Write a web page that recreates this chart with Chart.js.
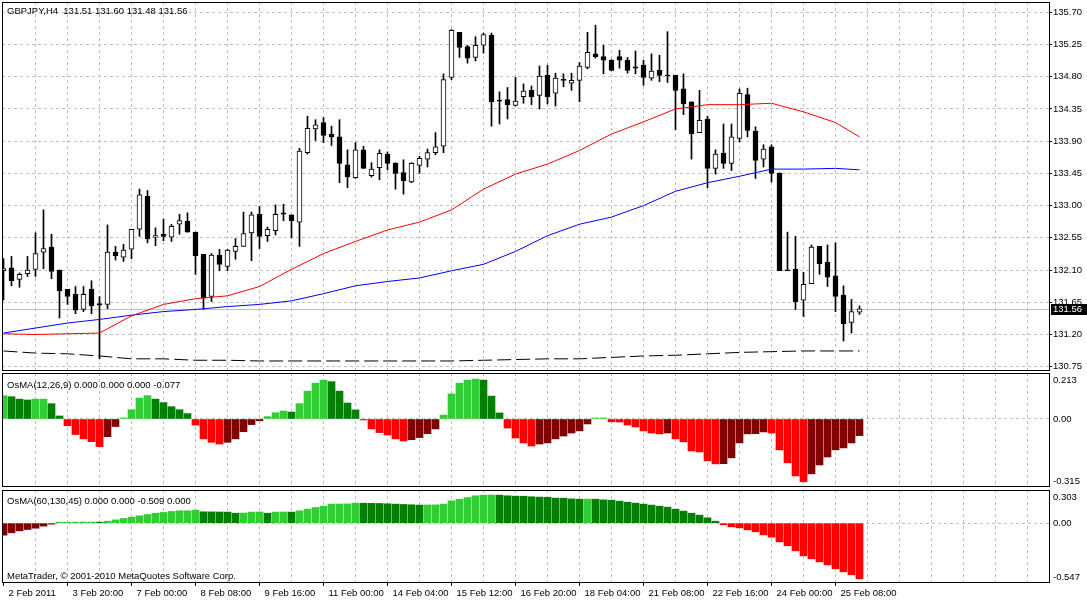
<!DOCTYPE html>
<html><head><meta charset="utf-8">
<script src="https://cdn.jsdelivr.net/npm/chart.js@4.4.0/dist/chart.umd.min.js"></script>
<style>
html,body{margin:0;padding:0;background:#fff;}
#wrap{position:relative;width:1087px;height:600px;overflow:hidden;background:#fff;}
canvas{position:absolute;left:0;}
.t{position:absolute;left:7px;font:9.5px "Liberation Sans",Arial,sans-serif;line-height:11px;color:#000;white-space:pre;}
</style></head><body>
<div id="wrap">
<canvas id="cMain" width="1087" height="372" style="top:0px"></canvas>
<canvas id="cOs1" width="1087" height="116" style="top:372px"></canvas>
<canvas id="cOs2" width="1087" height="111" style="top:489px"></canvas>
<div class="t" style="top:5px">GBPJPY,H4  131.51 131.60 131.48 131.56</div>
<div class="t" style="top:379px">OsMA(12,26,9) 0.000 0.000 0.000 -0.077</div>
<div class="t" style="top:495px">OsMA(60,130,45) 0.000 0.000 -0.509 0.000</div>
<div class="t" style="top:570px">MetaTrader, © 2001-2010 MetaQuotes Software Corp.</div>
</div>
<script>
// ---------- data ----------
const dateLabels = ['2 Feb 2011','3 Feb 20:00','7 Feb 00:00','8 Feb 08:00','9 Feb 16:00','11 Feb 00:00','14 Feb 04:00','15 Feb 12:00','16 Feb 20:00','18 Feb 04:00','21 Feb 08:00','22 Feb 16:00','24 Feb 00:00','25 Feb 08:00'];
const priceTicks = [135.70,135.25,134.80,134.35,133.90,133.45,133.00,132.55,132.10,131.65,131.20,130.75];
const osma1Labels = ['0.213','0.00','-0.315'];
const osma2Labels = ['0.303','0.00','-0.547'];

const opens = [132.09,132.13,131.97,132.05,132.11,132.35,132.42,132.10,131.83,131.76,
131.55,131.83,131.63,131.62,132.35,132.28,132.39,132.67,133.13,132.56,
132.60,132.56,132.74,132.78,132.63,132.32,131.73,132.31,132.15,132.36,
132.43,132.62,132.88,132.58,132.65,132.90,132.87,132.77,133.74,134.07,
134.16,134.00,133.96,133.57,133.39,133.78,133.42,133.53,133.72,133.59,
133.46,133.33,133.56,133.65,133.74,133.83,134.79,135.42,135.22,135.07,
135.24,135.38,134.47,134.48,134.40,134.52,134.61,134.54,134.82,134.57,
134.76,134.71,134.75,134.93,135.12,135.08,135.03,135.08,135.03,134.94,
134.96,134.78,134.89,134.82,134.82,134.63,134.45,134.02,134.21,133.52,
133.73,133.59,133.94,134.55,134.04,133.65,133.82,133.45,132.10,132.11,
131.68,131.91,132.43,132.21,132.02,131.75,131.37,131.51];
const highs = [132.26,132.29,132.06,132.29,132.62,132.94,132.60,132.10,131.83,131.87,
131.87,131.95,131.73,132.73,132.43,132.46,132.67,133.23,133.21,132.69,
132.81,132.74,132.88,132.90,132.63,132.32,132.33,132.39,132.39,132.54,
132.91,132.91,132.99,132.70,133.01,133.02,132.87,133.80,134.25,134.20,
134.23,134.11,134.20,133.78,133.88,133.83,133.60,133.78,133.75,133.60,
133.64,133.60,133.69,133.79,134.02,134.84,135.46,135.42,135.24,135.36,
135.41,135.41,134.59,134.65,134.79,134.70,134.67,134.95,134.96,134.85,
134.84,134.85,135.00,135.42,135.52,135.24,135.04,135.17,135.07,135.16,
135.03,135.12,135.10,135.43,134.82,134.84,134.45,134.61,134.25,133.78,
134.14,134.14,134.63,134.64,134.10,133.85,133.85,133.46,132.63,132.57,
132.07,132.45,132.43,132.45,132.48,131.88,131.69,131.60];
const lows = [131.68,131.88,131.86,132.01,132.01,132.12,131.98,131.43,131.62,131.49,
131.52,131.49,130.86,131.56,132.24,132.22,132.26,132.57,132.48,132.44,
132.51,132.50,132.60,132.63,132.04,131.55,131.66,132.09,132.09,132.25,
132.43,132.23,132.40,132.50,132.59,132.79,132.55,132.43,133.72,133.91,
133.88,133.84,133.32,133.25,133.38,133.52,133.40,133.36,133.50,133.23,
133.16,133.32,133.45,133.54,133.71,133.74,134.76,135.07,134.99,135.02,
135.13,134.11,134.14,134.21,134.39,134.43,134.41,134.35,134.42,134.39,
134.66,134.61,134.45,134.91,135.06,134.84,134.88,134.92,134.85,134.84,
134.68,134.75,134.73,134.72,134.06,134.27,133.65,134.02,133.25,133.44,
133.52,133.49,133.89,133.96,133.38,133.54,133.33,132.09,132.09,131.55,
131.45,131.91,132.04,131.87,131.52,131.11,131.22,131.48];
const closes = [132.12,131.95,132.04,132.10,132.33,132.40,132.08,131.81,131.73,131.54,
131.76,131.60,131.61,132.35,132.30,132.38,132.67,133.15,132.54,132.58,
132.57,132.71,132.79,132.63,132.30,131.71,132.31,132.18,132.38,132.43,
132.61,132.87,132.57,132.67,132.88,132.88,132.79,133.76,134.08,134.13,
133.98,133.96,133.59,133.40,133.78,133.52,133.51,133.73,133.59,133.45,
133.35,133.59,133.66,133.74,133.82,134.76,135.45,135.21,135.06,135.24,
135.39,134.45,134.46,134.41,134.46,134.60,134.52,134.81,134.52,134.78,
134.75,134.75,134.95,135.14,135.08,135.03,134.89,135.03,134.89,134.92,
134.79,134.88,134.82,134.81,134.61,134.42,134.00,134.19,133.52,133.72,
133.59,133.96,134.57,134.05,133.63,133.79,133.45,132.09,132.09,131.66,
131.90,132.42,132.19,132.00,131.73,131.35,131.52,131.56];

const maBars = [0,4,8,12,16,20,24,28,32,36,40,44,48,52,56,60,64,68,72,76,80,84,88,92,96,100,104,107];
const redMa = [131.21,131.20,131.21,131.22,131.46,131.62,131.70,131.74,131.87,132.11,132.33,132.50,132.66,132.77,132.94,133.23,133.44,133.58,133.77,134.00,134.17,134.35,134.41,134.41,134.43,134.31,134.16,133.96];
const blueMa = [131.22,131.29,131.36,131.41,131.47,131.52,131.55,131.59,131.62,131.67,131.77,131.88,131.94,131.99,132.09,132.18,132.36,132.58,132.74,132.84,133.00,133.20,133.32,133.41,133.51,133.51,133.52,133.50];
const blackMa = [130.97,130.94,130.93,130.90,130.86,130.86,130.84,130.84,130.83,130.83,130.83,130.83,130.83,130.83,130.83,130.84,130.85,130.86,130.86,130.88,130.90,130.91,130.93,130.95,130.96,130.97,130.97,130.97];

const osma1 = [0.108,0.103,0.092,0.088,0.092,0.092,0.071,0.014,-0.031,-0.072,
-0.092,-0.105,-0.128,-0.082,-0.035,0.005,0.043,0.097,0.108,0.092,
0.076,0.057,0.043,0.025,-0.028,-0.092,-0.108,-0.116,-0.108,-0.092,
-0.059,-0.026,-0.008,0.011,0.029,0.037,0.032,0.071,0.129,0.166,
0.180,0.173,0.129,0.074,0.042,-0.003,-0.046,-0.063,-0.074,-0.092,
-0.102,-0.096,-0.086,-0.068,-0.046,0.018,0.116,0.166,0.180,0.185,
0.180,0.106,0.028,-0.042,-0.088,-0.111,-0.125,-0.116,-0.111,-0.092,
-0.079,-0.065,-0.055,-0.023,0.001,0.002,-0.013,-0.014,-0.028,-0.037,
-0.055,-0.065,-0.069,-0.065,-0.092,-0.106,-0.148,-0.153,-0.194,-0.208,
-0.207,-0.180,-0.111,-0.069,-0.068,-0.060,-0.065,-0.143,-0.203,-0.264,
-0.291,-0.254,-0.213,-0.176,-0.143,-0.134,-0.111,-0.077];
const osma2 = [-0.110,-0.088,-0.070,-0.058,-0.046,-0.027,-0.009,0.006,0.009,0.009,
0.010,0.010,0.008,0.018,0.030,0.043,0.055,0.067,0.079,0.091,
0.098,0.107,0.113,0.113,0.119,0.104,0.103,0.102,0.101,0.091,
0.092,0.101,0.102,0.091,0.101,0.102,0.101,0.113,0.128,0.143,
0.155,0.174,0.175,0.176,0.183,0.182,0.181,0.180,0.177,0.174,
0.171,0.168,0.165,0.166,0.167,0.174,0.204,0.219,0.234,0.250,
0.256,0.257,0.256,0.250,0.247,0.246,0.241,0.238,0.237,0.229,
0.228,0.222,0.219,0.220,0.219,0.213,0.210,0.201,0.192,0.183,
0.174,0.165,0.155,0.146,0.128,0.110,0.091,0.073,0.049,0.018,
-0.015,-0.034,-0.043,-0.061,-0.079,-0.107,-0.128,-0.171,-0.207,-0.253,
-0.299,-0.326,-0.354,-0.381,-0.417,-0.445,-0.472,-0.509];

// ---------- setup ----------
const FONT = '"Liberation Sans", Arial, sans-serif';
Chart.defaults.font.family = FONT;
Chart.defaults.font.size = 9.5;
Chart.defaults.color = '#000';

const bars = opens.map((_, i) => i);
const X_MIN = -0.1875, X_MAX = 130.6875;
const GRID = '#c0c0c0';
const CLEAR = 'rgba(0,0,0,0)';

function isLabelTick(v){ return v % 8 === 0 && v / 8 < dateLabels.length; }

function xScale(showLabels){
  return {
    type:'linear', min:X_MIN, max:X_MAX, offset:false,
    afterBuildTicks: s => { const t=[]; for(let v=0; v<=128; v+=4) t.push({value:v}); s.ticks=t; },
    afterFit: s => { s.height = showLabels ? 17 : 0; s.paddingLeft=0; s.paddingRight=0; s.paddingTop=0; s.paddingBottom=0; },
    grid:{ offset:false, lineWidth:1,
      color: c => (c.tick && c.tick.value===0) ? CLEAR : GRID,
      drawTicks: showLabels, tickLength:3, tickWidth:1, tickBorderDash:[],
      tickColor: c => (c.tick && isLabelTick(c.tick.value)) ? '#000' : CLEAR },
    border:{display:false, dash:[3,3]},
    ticks:{display:showLabels, autoSkip:false, maxRotation:0, minRotation:0, align:'start', labelOffset:5, padding:2, color:'#000',
      callback: v => isLabelTick(v) ? dateLabels[v/8] : ''}
  };
}

function osmaColors(vals){
  return vals.map((v,i) => {
    const p = i>0 ? vals[i-1] : v;
    if (v >= 0) return v >= p ? '#32cd32' : '#008000';
    return v < p ? '#ff0000' : '#800000';
  });
}

const framePlugin = {
  id:'frame',
  afterDraw(chart){
    const {ctx, chartArea:ca} = chart;
    ctx.save(); ctx.strokeStyle='#000'; ctx.lineWidth=1;
    ctx.strokeRect(ca.left+0.5, ca.top+0.5, ca.right-ca.left, ca.bottom-ca.top-1);
    ctx.restore();
  }
};

const paneLabelPlugin = {
  id:'paneLabels',
  afterDraw(chart, args, opts){
    if(!opts || !opts.labels) return;
    const {ctx, chartArea:ca, scales:{y}} = chart;
    ctx.save(); ctx.font = '9.5px ' + FONT; ctx.fillStyle='#000'; ctx.textAlign='left'; ctx.textBaseline='middle';
    const x = ca.right + 4;
    ctx.fillText(opts.labels[0], x, ca.top + 7);
    ctx.fillText(opts.labels[1], x, y.getPixelForValue(0));
    ctx.fillText(opts.labels[2], x, ca.bottom - 6);
    ctx.restore();
  }
};

const bidPlugin = {
  id:'bid',
  beforeDatasetsDraw(chart, args, opts){
    const {ctx, chartArea:ca, scales:{y}} = chart;
    const py = Math.round(y.getPixelForValue(opts.price)) + 0.5;
    ctx.save(); ctx.strokeStyle=GRID; ctx.lineWidth=1;
    ctx.beginPath(); ctx.moveTo(ca.left, py); ctx.lineTo(ca.right, py); ctx.stroke();
    ctx.restore();
  },
  afterDraw(chart, args, opts){
    const {ctx, chartArea:ca, scales:{y}} = chart;
    const py = Math.round(y.getPixelForValue(opts.price));
    ctx.save();
    ctx.fillStyle='#000'; ctx.fillRect(ca.right+2, py-5, chart.width-ca.right-2, 11);
    ctx.fillStyle='#fff'; ctx.font='9.5px ' + FONT; ctx.textAlign='left'; ctx.textBaseline='middle';
    ctx.fillText(opts.price.toFixed(2), ca.right+4, py+0.5);
    ctx.restore();
  }
};

const common = {
  responsive:false, animation:false, events:[],
  layout:{autoPadding:false}
};

// ---------- main pane ----------
new Chart(document.getElementById('cMain'), {
  type:'bar',
  data:{ datasets:[
    {type:'line', data: maBars.map((b,k)=>({x:b, y:redMa[k]})), borderColor:'#ff0000', borderWidth:1, pointRadius:0, tension:0, order:0},
    {type:'line', data: maBars.map((b,k)=>({x:b, y:blueMa[k]})), borderColor:'#0000ff', borderWidth:1, pointRadius:0, tension:0, order:0},
    {type:'line', data: maBars.map((b,k)=>({x:b, y:blackMa[k]})), borderColor:'#000', borderWidth:1, borderDash:[14,5], pointRadius:0, tension:0, order:0},
    {type:'bar', data: bars.map(i=>({x:i, y:[lows[i], highs[i]]})), backgroundColor:'#000', borderWidth:0, barThickness:1, grouped:false, order:3},
    {type:'bar', data: bars.map(i=>({x:i, y:[opens[i], closes[i]]})),
      backgroundColor: bars.map(i => closes[i] >= opens[i] ? '#fff' : '#000'),
      borderColor:'#000', borderWidth:1, borderSkipped:false, barThickness:5, minBarLength:1, grouped:false, order:2}
  ]},
  options:Object.assign({}, common, {
    layout:{autoPadding:false, padding:{left:2, top:2, right:0, bottom:1}},
    plugins:{legend:{display:false}, tooltip:{enabled:false}, bid:{price: closes[closes.length-1]}},
    scales:{
      x: xScale(false),
      y: { position:'right', min:130.69, max:135.844,
        afterBuildTicks: s => { s.ticks = priceTicks.map(v=>({value:v})); },
        afterFit: s => { s.width = 38; s.paddingTop=0; s.paddingBottom=0; },
        grid:{color:GRID, lineWidth:1, drawTicks:true, tickLength:3, tickColor:'#000', tickWidth:1, tickBorderDash:[]},
        border:{display:false, dash:[3,3]},
        ticks:{padding:1, color:'#000', callback: v => Number(v).toFixed(2)}
      }
    }
  }),
  plugins:[bidPlugin, framePlugin]
});

// ---------- OsMA panes ----------
function paneY(minV, maxV){
  return { position:'right', min:minV, max:maxV,
    afterBuildTicks: s => { s.ticks = [{value:0}]; },
    afterFit: s => { s.width = 38; s.paddingTop=0; s.paddingBottom=0; },
    grid:{color:GRID, lineWidth:1, drawTicks:false},
    border:{display:false, dash:[3,3]},
    ticks:{display:false}
  };
}

function osmaChart(id, vals, labels, showX, pad){
  new Chart(document.getElementById(id), {
    type:'bar',
    data:{ datasets:[
      {data: bars.map(i=>({x:i, y:vals[i]})), backgroundColor: osmaColors(vals), borderWidth:0, barThickness:7, minBarLength:1, grouped:false}
    ]},
    options:Object.assign({}, common, {
      layout:{autoPadding:false, padding:pad},
      plugins:{legend:{display:false}, tooltip:{enabled:false}, paneLabels:{labels:labels}},
      scales:{ x: xScale(showX), y: paneY(parseFloat(labels[2]), parseFloat(labels[0])) }
    }),
    plugins:[paneLabelPlugin, framePlugin]
  });
}
osmaChart('cOs1', osma1, osma1Labels, false, {left:2, top:1, right:0, bottom:1});
osmaChart('cOs2', osma2, osma2Labels, true, {left:2, top:1, right:0, bottom:0});
</script>
</body></html>
